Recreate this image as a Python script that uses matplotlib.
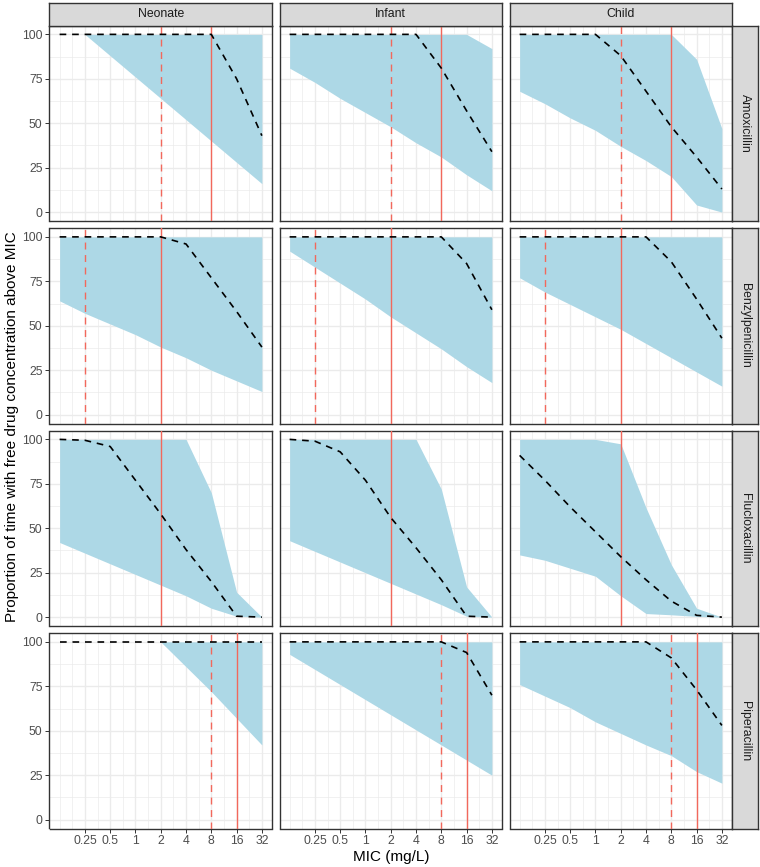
import matplotlib.pyplot as plt
from matplotlib.ticker import FixedLocator, NullFormatter

plt.rcParams['font.family'] = ['Liberation Sans', 'DejaVu Sans']

# MIC grid (mg/L) and facet labels
mic = [0.125, 0.25, 0.5, 1, 2, 4, 8, 16, 32]
ages = ['Neonate', 'Infant', 'Child']
drugs = ['Amoxicillin', 'Benzylpenicillin', 'Flucloxacillin', 'Piperacillin']
x_ticks = [0.25, 0.5, 1, 2, 4, 8, 16, 32]
x_labels = ['0.25', '0.5', '1', '2', '4', '8', '16', '32']
y_ticks = [0, 25, 50, 75, 100]

# breakpoints per drug: dashed line, solid line
bp_dashed = [2, 0.25, None, 8]
bp_solid = [8, 2, 2, 16]

# each list: [Neonate, Infant, Child]
amox_median = [[100, 100, 100, 100, 100, 100, 100, 75, 43],
               [100, 100, 100, 100, 100, 100, 81, 57, 34],
               [100, 100, 100, 100, 88, 68, 48, 31, 13]]
amox_lower = [[100, 100, 88, 76, 64, 52, 40, 28, 16],
              [81, 73, 64, 56, 48, 39, 31, 21, 12],
              [68, 61, 53, 46, 37, 29, 20, 4, 0]]
amox_upper = [[100, 100, 100, 100, 100, 100, 100, 100, 100],
              [100, 100, 100, 100, 100, 100, 100, 100, 92],
              [100, 100, 100, 100, 100, 100, 100, 86, 47]]

benzyl_median = [[100, 100, 100, 100, 100, 96, 77, 58, 38],
                 [100, 100, 100, 100, 100, 100, 100, 85, 59],
                 [100, 100, 100, 100, 100, 100, 86, 65, 43]]
benzyl_lower = [[64, 57, 51, 45, 38, 32, 25, 19, 13],
                [92, 83, 74, 65, 55, 46, 37, 27, 18],
                [77, 69, 62, 55, 48, 40, 32, 24, 16]]
benzyl_upper = [[100, 100, 100, 100, 100, 100, 100, 100, 100],
                [100, 100, 100, 100, 100, 100, 100, 100, 100],
                [100, 100, 100, 100, 100, 100, 100, 100, 100]]

fluclox_median = [[100, 99.5, 96, 77, 58, 38, 20, 0.5, 0],
                  [100, 99, 93, 77, 56, 39, 21, 0.5, 0],
                  [91, 77, 62, 48, 34, 21, 9, 1, 0]]
fluclox_lower = [[42, 36, 30, 24, 18, 12, 5, 0.5, 0],
                 [43, 37, 31, 25, 19, 13, 7, 0.5, 0],
                 [35, 32, 27.5, 23, 12, 2, 1.3, 0.4, 0]]
fluclox_upper = [[100, 100, 100, 100, 100, 100, 70, 14, 0],
                 [100, 100, 100, 100, 100, 100, 72, 17, 0],
                 [100, 100, 100, 100, 97.5, 61.5, 29.5, 5, 0]]

piper_median = [[100, 100, 100, 100, 100, 100, 100, 100, 100],
                [100, 100, 100, 100, 100, 100, 100, 94, 70],
                [100, 100, 100, 100, 100, 100, 91, 73, 53]]
piper_lower = [[100, 100, 100, 100, 100, 86, 72, 57, 42],
               [93, 84.5, 76, 67.5, 59, 50.5, 42, 33.5, 25],
               [76, 69.5, 63, 55, 48.5, 42, 36, 27, 20.5]]
piper_upper = [[100, 100, 100, 100, 100, 100, 100, 100, 100],
               [100, 100, 100, 100, 100, 100, 100, 100, 100],
               [100, 100, 100, 100, 100, 100, 100, 100, 100]]

medians = [amox_median, benzyl_median, fluclox_median, piper_median]
lowers = [amox_lower, benzyl_lower, fluclox_lower, piper_lower]
uppers = [amox_upper, benzyl_upper, fluclox_upper, piper_upper]

W, H = 760, 867
fig = plt.figure(figsize=(W / 100, H / 100), dpi=100)
fig.patch.set_facecolor('white')

left0, pw, gap_x = 49.5, 222.5, 7.5
top0, ph, gap_y = 25.5, 195.5, 7.0
red = '#F2685C'
border = '#333333'


def px_axes(x, y, w, h):
    return fig.add_axes([x / W, 1 - (y + h) / H, w / W, h / H])


minor_x = [2 ** (k / 2) for k in range(-6, 11) if k % 2 != 0] + [0.125]

for r, drug in enumerate(drugs):
    y = top0 + r * (ph + gap_y)
    for c, age in enumerate(ages):
        x = left0 + c * (pw + gap_x)
        ax = px_axes(x, y, pw, ph)
        ax.set_xscale('log', base=2)
        ax.set_xlim(2 ** -3.4, 2 ** 5.4)
        ax.set_ylim(-5, 105)

        ax.fill_between(mic, lowers[r][c], uppers[r][c], color='#ADD8E6', lw=0, zorder=2)
        if bp_dashed[r] is not None:
            ax.axvline(bp_dashed[r], color=red, lw=1.0, ls=(0, (5, 4)), zorder=3)
        ax.axvline(bp_solid[r], color=red, lw=1.0, zorder=3)
        ax.plot(mic, medians[r][c], color='black', lw=1.2, ls=(0, (4, 3.5)), zorder=4)

        ax.xaxis.set_major_locator(FixedLocator(x_ticks))
        ax.xaxis.set_minor_locator(FixedLocator(minor_x))
        ax.yaxis.set_major_locator(FixedLocator(y_ticks))
        ax.yaxis.set_minor_locator(FixedLocator([12.5, 37.5, 62.5, 87.5]))
        ax.xaxis.set_minor_formatter(NullFormatter())
        ax.grid(which='major', color='#EBEBEB', lw=1.0, zorder=0)
        ax.grid(which='minor', color='#EBEBEB', lw=0.5, zorder=0)
        ax.set_axisbelow(True)
        ax.tick_params(which='minor', length=0)
        ax.tick_params(which='major', length=3, width=0.7, color=border,
                       labelsize=8.8, labelcolor='#4D4D4D', pad=2)

        if r == len(drugs) - 1:
            ax.set_xticklabels(x_labels)
        else:
            ax.set_xticklabels([])
            ax.tick_params(axis='x', length=0)
        if c == 0:
            ax.set_yticklabels([str(v) for v in y_ticks])
        else:
            ax.set_yticklabels([])
            ax.tick_params(axis='y', length=0)

        for sp in ax.spines.values():
            sp.set_color(border)
            sp.set_linewidth(1.0)

        # top strips
        if r == 0:
            st = px_axes(x, 3, pw, top0 - 3)
            st.set_facecolor('#D9D9D9')
            st.set_xticks([])
            st.set_yticks([])
            for sp in st.spines.values():
                sp.set_color(border)
                sp.set_linewidth(1.0)
            st.text(0.5, 0.5, age, ha='center', va='center', fontsize=8.8,
                    color='#1A1A1A', transform=st.transAxes)

    # right strips
    xs = left0 + 3 * pw + 2 * gap_x
    st = px_axes(xs, y, 25.5, ph)
    st.set_facecolor('#D9D9D9')
    st.set_xticks([])
    st.set_yticks([])
    for sp in st.spines.values():
        sp.set_color(border)
        sp.set_linewidth(1.0)
    st.text(0.5, 0.5, drug, ha='center', va='center', fontsize=8.8,
            color='#1A1A1A', rotation=-90, transform=st.transAxes)

fig.text(12 / W, 1 - 427 / H, 'Proportion of time with free drug concentration above MIC',
         rotation=90, ha='center', va='center', fontsize=11)
fig.text(391 / W, 1 - 857 / H, 'MIC (mg/L)', ha='center', va='center', fontsize=11)

fig.savefig('out.png', dpi=100)
